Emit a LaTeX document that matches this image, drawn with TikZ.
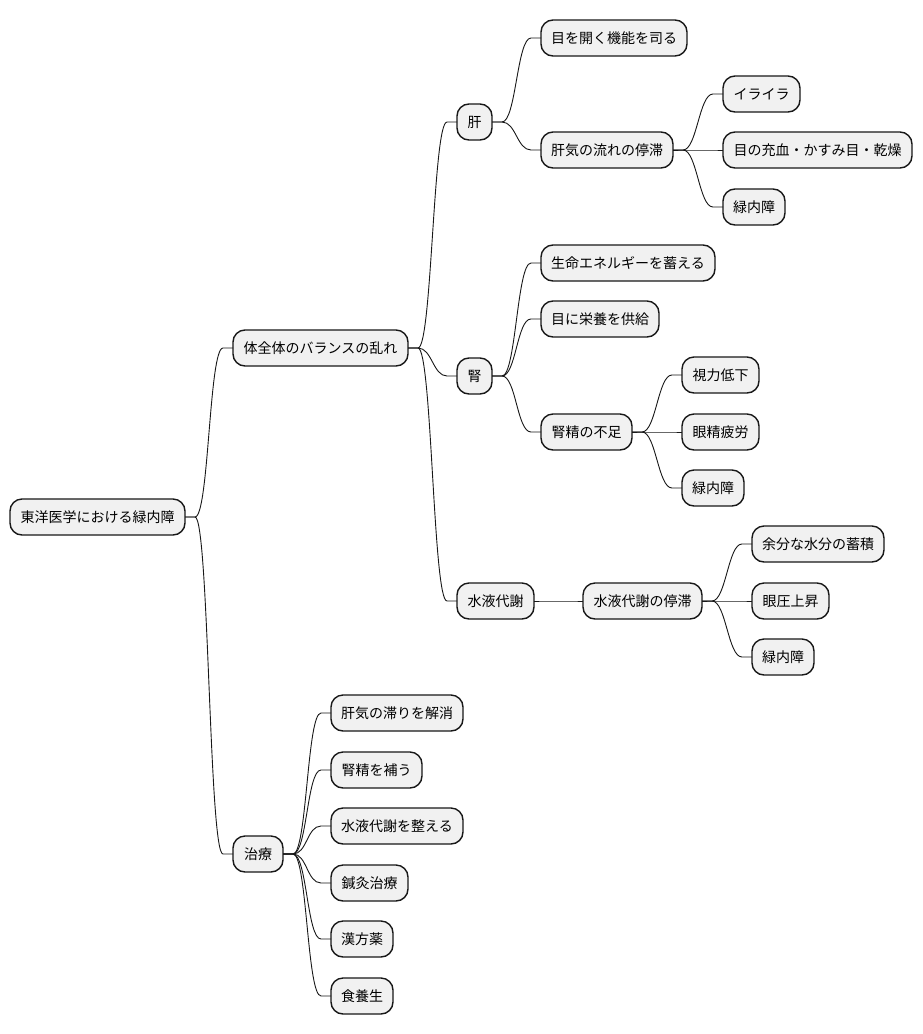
\documentclass[tikz,border=0pt]{standalone}
\usepackage{fontspec}
\setmainfont{Noto Sans CJK JP}
\usetikzlibrary{calc}
\definecolor{boxfill}{HTML}{F1F1F1}
\definecolor{boxline}{HTML}{181818}
\tikzset{
  mmbox/.style={rectangle, rounded corners=12pt, draw=boxline, fill=boxfill, line width=1.4pt,
    minimum height=36pt, inner sep=0pt, outer sep=0pt, anchor=west, text=black,
    font=\fontsize{14}{16}\selectfont},
  link/.style={draw=boxline, line width=0.9pt}
}
\newcommand\mmlink[2]{\draw[link] (#1.east) -- ++(10,0) .. controls +(14,0) and +(-14,0) .. ($(#2.west)+(-10,0)$) -- (#2.west);}
\begin{document}
\begin{tikzpicture}[x=1pt,y=-1pt]
\fill[white] (0,0) rectangle (922,1034);
\useasboundingbox (0,0) rectangle (922,1034);
\node[mmbox, minimum width=175pt] (root) at (10,517) {東洋医学における緑内障};
\node[mmbox, minimum width=175pt] (tai) at (233,348) {体全体のバランスの乱れ};
\node[mmbox, minimum width=50pt] (chiryo) at (233,854) {治療};
\node[mmbox, minimum width=35pt] (kan) at (457,122) {肝};
\node[mmbox, minimum width=35pt] (jin) at (457,376) {腎};
\node[mmbox, minimum width=77pt] (sui) at (457,601) {水液代謝};
\node[mmbox, minimum width=146pt] (k1) at (541,38) {目を開く機能を司る};
\node[mmbox, minimum width=132pt] (k2) at (541,150) {肝気の流れの停滞};
\node[mmbox, minimum width=77pt] (k21) at (723,94) {イライラ};
\node[mmbox, minimum width=189pt] (k22) at (723,150) {目の充血・かすみ目・乾燥};
\node[mmbox, minimum width=62pt] (k23) at (723,207) {緑内障};
\node[mmbox, minimum width=174pt] (j1) at (541,263) {生命エネルギーを蓄える};
\node[mmbox, minimum width=118pt] (j2) at (541,319) {目に栄養を供給};
\node[mmbox, minimum width=91pt] (j3) at (541,432) {腎精の不足};
\node[mmbox, minimum width=77pt] (j31) at (682,375) {視力低下};
\node[mmbox, minimum width=77pt] (j32) at (682,432) {眼精疲労};
\node[mmbox, minimum width=62pt] (j33) at (682,488) {緑内障};
\node[mmbox, minimum width=119pt] (s1) at (583,601) {水液代謝の停滞};
\node[mmbox, minimum width=132pt] (s11) at (752,544) {余分な水分の蓄積};
\node[mmbox, minimum width=77pt] (s12) at (752,601) {眼圧上昇};
\node[mmbox, minimum width=62pt] (s13) at (752,657) {緑内障};
\node[mmbox, minimum width=132pt] (c1) at (331,713) {肝気の滞りを解消};
\node[mmbox, minimum width=91pt] (c2) at (331,770) {腎精を補う};
\node[mmbox, minimum width=132pt] (c3) at (331,826) {水液代謝を整える};
\node[mmbox, minimum width=77pt] (c4) at (331,883) {鍼灸治療};
\node[mmbox, minimum width=62pt] (c5) at (331,939) {漢方薬};
\node[mmbox, minimum width=62pt] (c6) at (331,996) {食養生};
\mmlink{root}{tai}
\mmlink{root}{chiryo}
\mmlink{tai}{kan}
\mmlink{tai}{jin}
\mmlink{tai}{sui}
\mmlink{kan}{k1}
\mmlink{kan}{k2}
\mmlink{k2}{k21}
\mmlink{k2}{k22}
\mmlink{k2}{k23}
\mmlink{jin}{j1}
\mmlink{jin}{j2}
\mmlink{jin}{j3}
\mmlink{j3}{j31}
\mmlink{j3}{j32}
\mmlink{j3}{j33}
\mmlink{sui}{s1}
\mmlink{s1}{s11}
\mmlink{s1}{s12}
\mmlink{s1}{s13}
\mmlink{chiryo}{c1}
\mmlink{chiryo}{c2}
\mmlink{chiryo}{c3}
\mmlink{chiryo}{c4}
\mmlink{chiryo}{c5}
\mmlink{chiryo}{c6}
\end{tikzpicture}
\end{document}
